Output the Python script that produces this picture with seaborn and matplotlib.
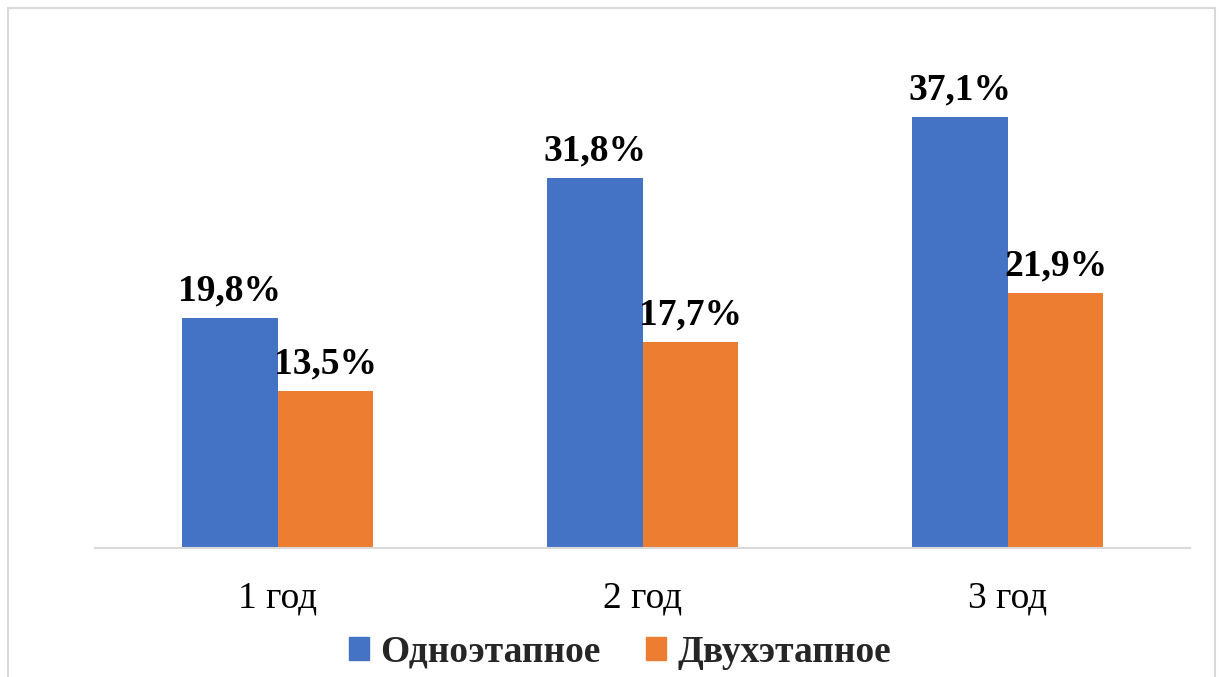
import matplotlib
matplotlib.use("Agg")
import matplotlib.pyplot as plt
import matplotlib.patches as mpatches
import seaborn as sns
import pandas as pd

categories = ["1 год", "2 год", "3 год"]
series_names = ["Одноэтапное", "Двухэтапное"]
one_stage = [19.8, 31.8, 37.1]
two_stage = [13.5, 17.7, 21.9]
colors = ["#4472C4", "#ED7D31"]

df = pd.DataFrame({
    "cat": categories * 2,
    "series": [series_names[0]] * 3 + [series_names[1]] * 3,
    "value": one_stage + two_stage,
})

sns.set_theme(style="white")
plt.rcParams["font.family"] = ["Liberation Serif", "DejaVu Serif"]

fig = plt.figure(figsize=(12.2, 6.77), dpi=100)
ax = fig.add_axes([95 / 1220, 1 - 548 / 677, 1095 / 1220, (548 - 83) / 677])

sns.barplot(data=df, x="cat", y="value", hue="series", palette=colors,
            width=0.526, gap=0, ax=ax, legend=False, saturation=1,
            order=categories, hue_order=series_names, linewidth=0)

for container in ax.containers:
    ax.bar_label(container, labels=[f"{v:.1f}%".replace(".", ",") for v in container.datavalues],
                 padding=7, fontsize=27, fontweight="bold", color="black")

ax.set_ylim(0, 40)
ax.set_xlim(-0.5, 2.5)
ax.set_xlabel("")
ax.set_ylabel("")
ax.set_yticks([])
for s in ["top", "left", "right"]:
    ax.spines[s].set_visible(False)
ax.spines["bottom"].set_color("#D9D9D9")
ax.spines["bottom"].set_linewidth(1.5)
ax.tick_params(axis="x", length=0, pad=24, labelsize=27, colors="black")

handles = [mpatches.Patch(color=c, label=n) for c, n in zip(colors, series_names)]
fig.legend(handles=handles, loc="center", bbox_to_anchor=(620 / 1220, 1 - 652 / 677),
           ncol=2, frameon=False, prop={"weight": "bold", "size": 27},
           handlelength=0.55, handleheight=0.55, handletextpad=0.3, columnspacing=1.2)

border = mpatches.Rectangle((8 / 1220, -0.05), (1215 - 8) / 1220, 1.05 - 8 / 677,
                            transform=fig.transFigure, fill=False, edgecolor="#D9D9D9",
                            linewidth=1.5)
fig.patches.append(border)

fig.savefig("out.png", dpi=100, facecolor="white")
